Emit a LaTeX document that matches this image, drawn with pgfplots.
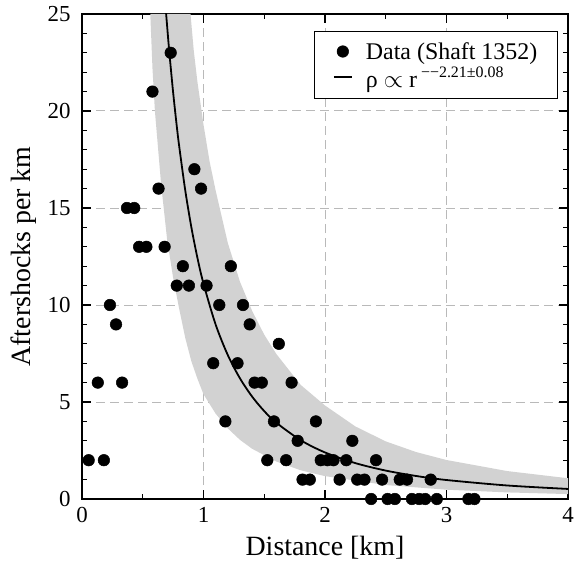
\documentclass[border=0pt]{standalone}
\usepackage{pgfplots}
\pgfplotsset{compat=1.18}
\usepackage{fontspec}
\setmainfont{Liberation Serif}

\pgfplotstableread{
x y
0.055 2
0.13 6
0.18 2
0.23 10
0.28 9
0.33 6
0.37 15
0.43 15
0.47 13
0.53 13
0.58 21
0.63 16
0.68 13
0.73 23
0.78 11
0.83 12
0.88 11
0.925 17
0.98 16
1.025 11
1.08 7
1.13 10
1.18 4
1.225 12
1.28 7
1.325 10
1.38 9
1.42 6
1.48 6
1.525 2
1.58 4
1.62 8
1.68 2
1.725 6
1.775 3
1.815 1
1.875 1
1.925 4
1.965 2
2.02 2
2.07 2
2.12 1
2.175 2
2.225 3
2.265 1
2.325 1
2.38 0
2.42 2
2.47 1
2.515 0
2.575 0
2.615 1
2.675 1
2.715 0
2.775 0
2.825 0
2.87 1
2.92 0
3.18 0
3.23 0
}\datatable

\pgfplotstableread{
x y
0.69 25.2
0.70 24.42
0.72 22.94
0.75 20.96
0.78 19.22
0.80 18.18
0.85 15.90
0.90 14.01
0.95 12.43
1.00 11.10
1.10 8.99
1.20 7.42
1.30 6.22
1.40 5.28
1.50 4.53
1.60 3.93
1.80 3.03
2.00 2.40
2.25 1.85
2.50 1.465
2.75 1.187
3.00 0.979
3.50 0.697
4.00 0.519
}\fittable

\pgfplotstableread{
x y
0.893 25
0.92 23.1
0.95 21.5
1.0 19.3
1.05 17.4
1.1 15.9
1.2 13.2
1.3 11.2
1.4 9.7
1.5 8.47
1.6 7.47
1.8 5.88
2.0 4.82
2.25 3.74
2.5 2.97
2.75 2.42
3.0 2.01
3.5 1.44
4.0 1.07
4.0 0.254
3.5 0.34
3.0 0.48
2.5 0.72
2.0 1.18
1.8 1.48
1.6 1.93
1.4 2.59
1.3 3.05
1.2 3.64
1.1 4.4
1.0 5.4
0.95 6.2
0.9 7.1
0.85 8.3
0.8 9.8
0.75 11.4
0.7 13.4
0.65 16.3
0.6 20
0.58 22.2
0.562 25
}\bandtable

\begin{document}
\begin{tikzpicture}
\begin{axis}[
  scale only axis, width=486bp, height=485bp,
  xmin=0, xmax=4, ymin=0, ymax=25,
  xtick={0,1,2,3,4}, ytick={0,5,10,15,20,25},
  minor x tick num=1, minor y tick num=4,
  tick align=inside,
  major tick length=9bp, minor tick length=5bp,
  tick style={black, line width=1.2bp},
  axis line style={line width=1.8bp},
  grid=major,
  major grid style={gray!55, line width=1bp, dash pattern=on 9bp off 5bp},
  ticklabel style={font=\fontsize{23}{23}\selectfont},
  xticklabel style={yshift=-5bp},
  yticklabel style={xshift=-8bp},
  /pgf/number format/assume math mode=true,
  xlabel={Distance [km]}, ylabel={Aftershocks per km},
  every axis x label/.style={at={(axis description cs:0.5,-0.10)}, anchor=center, font=\fontsize{28}{30}\selectfont},
  every axis y label/.style={at={(axis description cs:-0.12,0.5)}, rotate=90, anchor=center, font=\fontsize{28}{30}\selectfont},
  legend style={at={(axis description cs:1,1)}, anchor=north east, xshift=-10bp, yshift=-17bp,
    draw=black, line width=1.5bp, font=\fontsize{24}{26}\selectfont,
    nodes={inner sep=2bp},
    inner xsep=18bp, inner ysep=8bp, column sep=11bp, fill=white},
  legend cell align=left,
  reverse legend,
]
\addplot[fill=gray!35, draw=none, forget plot] table[x=x,y=y] {\bandtable} -- cycle;
\addplot[black, line width=1.8bp, smooth,
  legend image code/.code={\draw[black, line width=2.2bp] (0bp,0bp) -- (18bp,0bp);}] table[x=x,y=y] {\fittable};
\addlegendentry{\rule[-6bp]{0pt}{28bp}ρ $\propto$ r\,\smash{\raisebox{0.85ex}{\fontsize{16}{16}\selectfont −−2.21±0.08}}}
\addplot[only marks, mark=*, mark size=5.8bp, black, line width=0.5bp,
  legend image code/.code={\fill[black] (9bp,0bp) circle (5.8bp);}] table[x=x,y=y] {\datatable};
\addlegendentry{\rule[-6bp]{0pt}{24bp}Data (Shaft 1352)}
\end{axis}
\pgfresetboundingbox
\path[use as bounding box] ([xshift=-82bp,yshift=-67bp]current axis.south west) rectangle ([xshift=11bp,yshift=14bp]current axis.north east);
\end{tikzpicture}
\end{document}
